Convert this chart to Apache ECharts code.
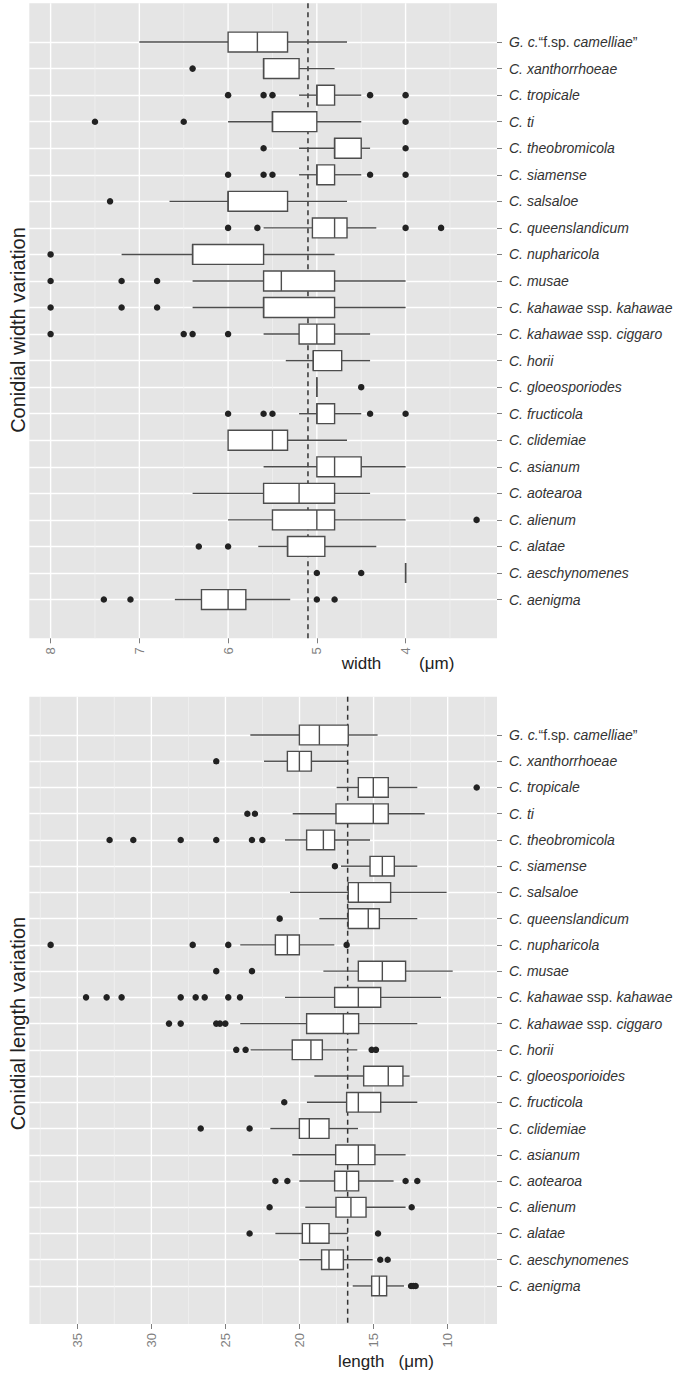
<!DOCTYPE html>
<html><head><meta charset="utf-8">
<script src="https://cdn.jsdelivr.net/npm/echarts@6/dist/echarts.min.js"></script>
<style>html,body{margin:0;padding:0;background:#fff}#c{width:690px;height:1375px}</style>
</head><body><div id="c"></div>
<script>
// ---------- data ----------
const widthCategories = ['G. c.“f.sp. camelliae”','C. xanthorrhoeae','C. tropicale','C. ti','C. theobromicola','C. siamense','C. salsaloe','C. queenslandicum','C. nupharicola','C. musae','C. kahawae ssp. kahawae','C. kahawae ssp. ciggaro','C. horii','C. gloeosporiodes','C. fructicola','C. clidemiae','C. asianum','C. aotearoa','C. alienum','C. alatae','C. aeschynomenes','C. aenigma'];
const lengthCategories = ['G. c.“f.sp. camelliae”','C. xanthorrhoeae','C. tropicale','C. ti','C. theobromicola','C. siamense','C. salsaloe','C. queenslandicum','C. nupharicola','C. musae','C. kahawae ssp. kahawae','C. kahawae ssp. ciggaro','C. horii','C. gloeosporioides','C. fructicola','C. clidemiae','C. asianum','C. aotearoa','C. alienum','C. alatae','C. aeschynomenes','C. aenigma'];
// [min, q1, median, q3, max]
const widthBoxes = [
 [4.66,5.33,5.67,6.0,7.0],[4.8,5.2,5.6,5.6,5.6],[4.5,4.8,5.0,5.0,5.2],[4.5,5.0,5.5,5.5,6.0],
 [4.4,4.5,4.8,4.8,5.2],[4.5,4.8,5.0,5.0,5.2],[4.66,5.33,6.0,6.0,6.66],[4.33,4.66,4.8,5.05,5.6],
 [4.8,5.6,6.4,6.4,7.2],[4.0,4.8,5.4,5.6,6.4],[4.0,4.8,5.6,5.6,6.4],[4.4,4.8,5.0,5.2,5.6],
 [4.4,4.72,5.04,5.04,5.35],[5.0,5.0,5.0,5.0,5.0],[4.5,4.8,5.0,5.0,5.2],[4.66,5.33,5.5,6.0,6.0],
 [4.0,4.5,4.8,5.0,5.6],[4.4,4.8,5.2,5.6,6.4],[4.0,4.8,5.0,5.5,6.0],[4.33,4.91,5.33,5.33,5.66],
 [4.0,4.0,4.0,4.0,4.0],[5.3,5.8,6.0,6.3,6.6]
];
const widthOutliers = [
 [],[6.4],[6.0,5.6,5.5,4.4,4.0],[7.5,6.5,4.0],[5.6,4.0],[6.0,5.6,5.5,4.4,4.0],[7.33],[6.0,5.67,4.0,3.6],
 [8.0],[8.0,7.2,6.8],[8.0,7.2,6.8],[8.0,6.5,6.4,6.0],[],[4.5],[6.0,5.6,5.5,4.4,4.0],[],[],[],[3.2],[6.33,6.0],
 [5.0,4.5],[7.4,7.1,5.0,4.8]
];
const lengthBoxes = [
 [14.73,16.71,18.66,20.01,23.32],[16.75,19.2,20.01,20.82,22.4],[12.05,14.01,15.02,16.03,17.49],[11.55,14.01,15.02,17.54,20.46],
 [15.24,17.63,18.39,19.52,20.98],[12.05,13.6,14.41,15.24,17.2],[10.07,13.85,16.03,16.71,20.64],[12.05,14.61,15.36,16.71,18.66],
 [17.65,20.01,20.82,21.63,24.0],[9.66,12.84,14.41,16.03,18.39],[10.45,14.52,16.03,17.63,20.98],[12.05,16.01,17.04,19.52,24.0],
 [16.1,18.46,19.23,20.49,23.3],[12.57,13.02,14.01,15.67,19.0],[12.05,14.52,16.03,16.82,19.5],[16.05,18.01,19.34,20.01,21.97],
 [12.84,14.91,16.03,17.56,20.49],[13.65,16.01,16.82,17.63,20.01],[12.84,15.51,16.53,17.54,19.61],[16.75,18.01,19.32,19.81,21.63],
 [15.06,17.04,18.01,18.51,20.01],[12.95,14.12,14.61,15.13,16.41]
];
const lengthOutliers = [
 [],[25.62],[8.04],[23.52,23.01],[32.82,31.22,28.02,25.62,23.21,22.51],[17.61],[],[21.34],
 [36.8,27.21,24.81,16.82],[25.62,23.21],[34.41,33.02,32.01,28.02,27.01,26.4,24.81,24.02],[28.81,28.02,25.62,25.37,25.01],
 [24.27,23.64,15.13,14.84],[],[21.03],[26.67,23.37],[],[21.63,20.82,12.84,12.05],[22.02,12.43],[23.37,14.7],
 [14.55,14.05],[12.47,12.32,12.16]
];
const widthMean = 5.1;
const lengthMean = 16.75;
const widthTicks = [4,5,6,7,8];
const widthMinorTicks = [3.5,4.5,5.5,6.5,7.5];
const lengthTicks = [10,15,20,25,30,35];
const lengthMinorTicks = [7.5,12.5,17.5,22.5,27.5,32.5,37.5];
const widthTitle = 'Conidial width variation';
const lengthTitle = 'Conidial length variation';
const widthAxisName = 'width        (μm)';
const lengthAxisName = 'length   (μm)';

// ---------- helpers ----------
const FONT = '"Liberation Sans", Arial, Helvetica, sans-serif';
const catIdx = widthCategories.map((_, i) => i);

function richLabel(s) {
  if (s === undefined) return '';
  if (s.indexOf('G. c.') === 0) return '{i|G. c.}{n|“f.sp. }{i|camelliae}{n|”}';
  const p = s.split(' ssp. ');
  if (p.length === 2) return '{i|' + p[0] + '}{n| ssp. }{i|' + p[1] + '}';
  return '{i|' + s + '}';
}
const rich = {
  i: {fontStyle: 'italic', fontSize: 14, color: '#333', fontFamily: FONT},
  n: {fontStyle: 'normal', fontSize: 14, color: '#333', fontFamily: FONT}
};

const BOX_STROKE = '#4d4d4d';
function renderBox(params, api) {
  const idx = api.value(0);
  const lo = api.coord([api.value(1), idx]);
  const q1 = api.coord([api.value(2), idx]);
  const md = api.coord([api.value(3), idx]);
  const q3 = api.coord([api.value(4), idx]);
  const hi = api.coord([api.value(5), idx]);
  const h = Math.abs(api.size([0, 0.75])[1]);
  const y = lo[1];
  const st = {stroke: BOX_STROKE, lineWidth: 1.4, fill: null};
  const left = Math.min(q1[0], q3[0]);
  const w = Math.abs(q3[0] - q1[0]);
  return {type: 'group', children: [
    {type: 'line', shape: {x1: lo[0], y1: y, x2: q1[0], y2: y}, style: st},
    {type: 'line', shape: {x1: q3[0], y1: y, x2: hi[0], y2: y}, style: st},
    {type: 'rect', shape: {x: left, y: y - h / 2, width: w, height: h}, style: {fill: '#fff', stroke: BOX_STROKE, lineWidth: 1.4}},
    {type: 'line', shape: {x1: md[0], y1: y - h / 2, x2: md[0], y2: y + h / 2}, style: st}
  ]};
}

// vertical line spanning the whole panel at a given x value
function vLineRenderer(ymin, ymax, style) {
  return function (params, api) {
    const v = api.value(0);
    const a = api.coord([v, ymin]);
    const b = api.coord([v, ymax]);
    return {type: 'line', shape: {x1: a[0], y1: a[1], x2: b[0], y2: b[1]}, style: style};
  };
}

function outlierPoints(out) {
  const pts = [];
  out.forEach((arr, i) => arr.forEach(v => pts.push([v, i])));
  return pts;
}

function axesFor(gi, cats, ticks, xmin, xmax, ymin, ymax) {
  const xAx = {
    type: 'value', gridIndex: gi, inverse: true, min: xmin, max: xmax, position: 'bottom',
    axisLine: {show: false, onZero: false},
    axisTick: {show: true, length: 5, lineStyle: {color: '#7f7f7f', width: 1}, customValues: ticks},
    axisLabel: {customValues: ticks, rotate: 90, margin: 9, color: '#7f7f7f', fontSize: 13, fontFamily: FONT},
    splitLine: {show: false}
  };
  const yAx = {
    type: 'value', gridIndex: gi, inverse: true, min: ymin, max: ymax, position: 'right',
    axisLine: {show: false, onZero: false},
    axisTick: {show: true, length: 5, lineStyle: {color: '#7f7f7f', width: 1}, customValues: catIdx},
    axisLabel: {customValues: catIdx, margin: 12, formatter: v => richLabel(cats[Math.round(v)]), rich: rich,
                color: '#333', fontSize: 14, fontFamily: FONT},
    splitLine: {show: true, lineStyle: {color: '#ffffff', width: 1.4}}
  };
  return {xAx, yAx};
}

const W = {xmin: 2.97, xmax: 8.24, ymin: -1.46, ymax: 22.46};
const L = {xmin: 6.67, xmax: 38.24, ymin: -1.46, ymax: 22.45};
const a0 = axesFor(0, widthCategories, widthTicks, W.xmin, W.xmax, W.ymin, W.ymax);
const a1 = axesFor(1, lengthCategories, lengthTicks, L.xmin, L.xmax, L.ymin, L.ymax);

const majorStyle = {stroke: '#ffffff', lineWidth: 1.4};
const minorStyle = {stroke: '#f3f3f3', lineWidth: 0.7};
const meanStyle = {stroke: '#333333', lineWidth: 1.5, lineDash: [5, 4]};

function panelSeries(ai, P, boxes, outs, ticks, minor, mean) {
  return [
    {type: 'custom', xAxisIndex: ai, yAxisIndex: ai, z: 0, silent: true, renderItem: vLineRenderer(P.ymin, P.ymax, minorStyle),
     encode: {x: 0}, data: minor.map(v => [v])},
    {type: 'custom', xAxisIndex: ai, yAxisIndex: ai, z: 0, silent: true, renderItem: vLineRenderer(P.ymin, P.ymax, majorStyle),
     encode: {x: 0}, data: ticks.map(v => [v])},
    {type: 'custom', xAxisIndex: ai, yAxisIndex: ai, z: 1, silent: true, renderItem: vLineRenderer(P.ymin, P.ymax, meanStyle),
     encode: {x: 0}, data: [[mean]]},
    {type: 'custom', xAxisIndex: ai, yAxisIndex: ai, z: 3, silent: true, renderItem: renderBox,
     encode: {x: [1, 2, 3, 4, 5], y: 0}, data: boxes.map((b, i) => [i].concat(b))},
    {type: 'scatter', xAxisIndex: ai, yAxisIndex: ai, z: 4, symbolSize: 6.5, silent: true,
     itemStyle: {color: '#222', opacity: 1}, data: outlierPoints(outs)}
  ];
}

const option = {
  animation: false,
  backgroundColor: '#fff',
  textStyle: {fontFamily: FONT},
  grid: [
    {left: 29.3, top: 3.3, width: 467.7, height: 635, show: true, backgroundColor: '#e5e5e5', borderWidth: 0},
    {left: 29.3, top: 696.7, width: 467.7, height: 627.3, show: true, backgroundColor: '#e5e5e5', borderWidth: 0}
  ],
  xAxis: [a0.xAx, a1.xAx],
  yAxis: [a0.yAx, a1.yAx],
  series: [].concat(
    panelSeries(0, W, widthBoxes, widthOutliers, widthTicks, widthMinorTicks, widthMean),
    panelSeries(1, L, lengthBoxes, lengthOutliers, lengthTicks, lengthMinorTicks, lengthMean)
  ),
  graphic: [
    {type: 'text', x: 17.5, y: 330, rotation: Math.PI / 2,
     style: {text: widthTitle, fontSize: 20, fontFamily: FONT, fill: '#222', textAlign: 'center', textVerticalAlign: 'middle', align: 'center', verticalAlign: 'middle'}},
    {type: 'text', x: 17.5, y: 1023.5, rotation: Math.PI / 2,
     style: {text: lengthTitle, fontSize: 20, fontFamily: FONT, fill: '#222', textAlign: 'center', textVerticalAlign: 'middle', align: 'center', verticalAlign: 'middle'}},
    {type: 'text', x: 398, y: 663,
     style: {text: widthAxisName, fontSize: 17, fontFamily: FONT, fill: '#222', textAlign: 'center', textVerticalAlign: 'middle', align: 'center', verticalAlign: 'middle'}},
    {type: 'text', x: 386, y: 1361,
     style: {text: lengthAxisName, fontSize: 17, fontFamily: FONT, fill: '#222', textAlign: 'center', textVerticalAlign: 'middle', align: 'center', verticalAlign: 'middle'}}
  ]
};

const chart = echarts.init(document.getElementById('c'), null, {renderer: 'svg'});
chart.setOption(option);
</script>
</body></html>
